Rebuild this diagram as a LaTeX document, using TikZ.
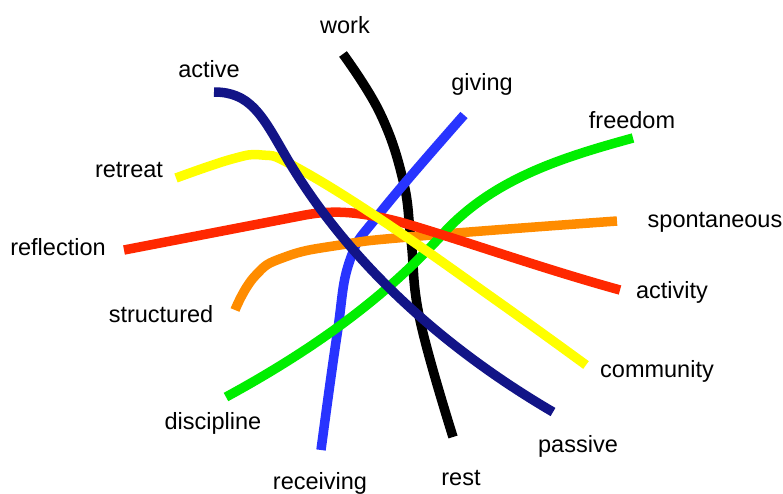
\documentclass[tikz,border=0pt]{standalone}
\usepackage{fontspec}
\setmainfont{Liberation Sans}
\definecolor{navystrand}{RGB}{18,20,135}
\definecolor{bluestrand}{RGB}{40,52,255}
\definecolor{redstrand}{RGB}{255,40,0}
\definecolor{orangestrand}{RGB}{255,140,0}
\definecolor{greenstrand}{RGB}{0,238,0}
\definecolor{yellowstrand}{RGB}{255,255,0}
\tikzset{
    strand/.style={line width=9.5pt, line join=round},
    word/.style={font=\fontsize{23.5}{28}\selectfont, inner sep=0pt, anchor=base}
}

\begin{document}
\begin{tikzpicture}[x=1pt,y=-1pt]
        \useasboundingbox (0,0) rectangle (783,493);
        % labels
        \foreach \n/\x/\y in {work/345/33, active/209/77, giving/482/90, freedom/632/128,
                retreat/129/177, reflection/58/255, spontaneous/715/227, activity/672/298,
                structured/161/322, community/657/377, discipline/213/429, passive/578/452,
                receiving/320/489, rest/461/485} {
            \node[word] (\n) at (\x,\y) {\n};
        }
        % strands, bottom to top
        \draw[strand, black] plot[smooth, tension=0.7] coordinates
            {(343,54) (380,113) (403,180) (411,240) (420,320) (453,437)};
        \draw[strand, bluestrand] plot[smooth, tension=0.7] coordinates
            {(464,115) (380,213) (350,260) (337,335) (321,450)};
        \draw[strand, orangestrand] plot[smooth, tension=0.8] coordinates
            {(235,310) (255,276) (285,257) (340,245) (420,236) (617,221)};
        \draw[strand, greenstrand] (226,397) .. controls (340,335) and (400,280) .. (440,237)
            .. controls (490,180) and (560,158) .. (633,138);
        \draw[strand, redstrand] (124,250) -- (300,216) .. controls (325,211) and (350,209) .. (400,222)
            .. controls (450,236) and (540,268) .. (620,290);
        \draw[strand, yellowstrand] plot[smooth, tension=0.7] coordinates
            {(176,178) (232,159) (262,155) (292,165) (377,217) (500,303) (586,365)};
        \draw[strand, navystrand] (214,92) .. controls (250,92) and (262,115) .. (285,155)
            .. controls (340,250) and (430,340) .. (553,412);
        \end{tikzpicture}
\end{document}
